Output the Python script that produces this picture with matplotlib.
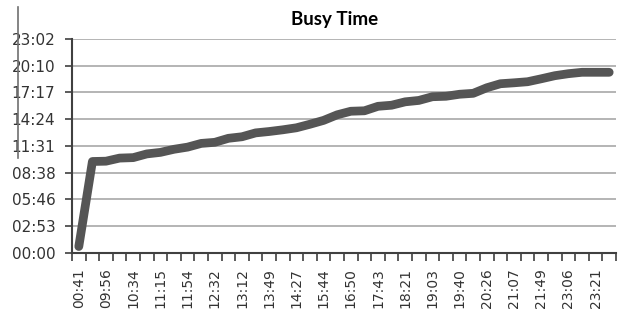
import numpy as np
import matplotlib
matplotlib.use('Agg')
import matplotlib.pyplot as plt
from matplotlib.lines import Line2D
from matplotlib.ticker import FuncFormatter

plt.rcParams['font.family'] = ['DejaVu Sans']

# valores (hh:mm)
busy_time = ["00:40", "09:50", "09:52", "10:12", "10:15", "10:39", "10:49", "11:09",
             "11:23", "11:47", "11:54", "12:20", "12:30", "12:55", "13:04", "13:15",
             "13:28", "13:51", "14:16", "14:52", "15:15", "15:18", "15:47", "15:54",
             "16:16", "16:25", "16:49", "16:52", "17:05", "17:11", "17:47", "18:13",
             "18:19", "18:26", "18:45", "19:05", "19:18", "19:27", "19:27", "19:27"]
x_labels = ["00:41", "09:56", "10:34", "11:15", "11:54", "12:32", "13:12", "13:49",
            "14:27", "15:44", "16:50", "17:43", "18:21", "19:03", "19:40", "20:26",
            "21:07", "21:49", "23:06", "23:21"]
y_step = 172.8   # minutos (0,12 dia)
n_y = 9

def minutos(s):
    h, m = s.split(':')
    return int(h)*60 + int(m)

def hhmm(v, pos=None):
    v = int(round(v))
    return '%02d:%02d' % (v // 60, v % 60)

y = np.array([minutos(s) for s in busy_time])
x = np.arange(len(y))

fig = plt.figure(figsize=(6.21, 3.12), dpi=100)
ax = fig.add_axes([72/621, 59.3/312, 544/621, 213.7/312])

ax.plot(x, y, color='#555555', lw=6.3, solid_capstyle='round',
        solid_joinstyle='round', clip_on=False, zorder=3)

ax.set_xlim(-0.5, len(y) - 0.5)
ax.set_ylim(0, y_step*(n_y - 1))
ax.set_yticks(np.arange(n_y)*y_step)
ax.yaxis.set_major_formatter(FuncFormatter(hhmm))
ax.grid(axis='y', color='#a8a8a8', lw=1.2)
ax.set_axisbelow(True)

ax.set_xticks(np.arange(0, len(y), 2))
ax.set_xticklabels(x_labels, rotation=90)
ax.set_xticks(np.arange(-0.5, len(y), 1), minor=True)
ax.tick_params(axis='x', which='major', length=0, pad=11, labelsize=10, labelcolor='#333333')
ax.tick_params(axis='x', which='minor', length=6, width=1.2, color='#404040', direction='out')
ax.tick_params(axis='y', length=5, width=1.2, color='#404040', pad=7, labelsize=11,
               labelcolor='#333333')

for s in ['top', 'right']:
    ax.spines[s].set_visible(False)
for s in ['left', 'bottom']:
    ax.spines[s].set_color('#404040')
    ax.spines[s].set_linewidth(1.5)

fig.text(335/621, 1 - 19/312, 'Busy Time', ha='center', va='center',
         fontweight='bold', family='Lato', fontsize=13.5)

# linha vertical solta na borda esquerda
fig.add_artist(Line2D([18/621, 18/621], [1 - 7/312, 1 - 158/312], color='#707070', lw=1.2))

fig.savefig('out.png', dpi=100)
